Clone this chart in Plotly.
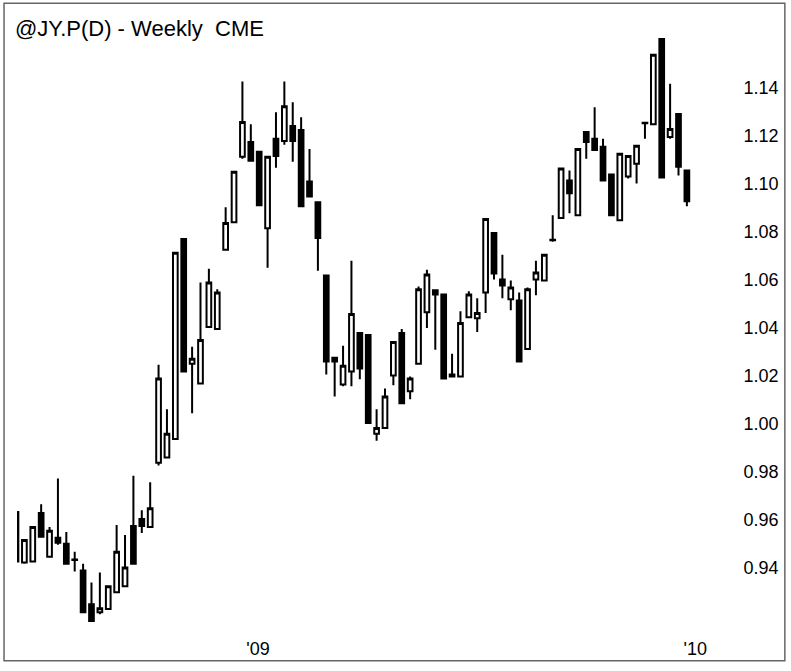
import pandas as pd
import plotly.graph_objects as go

# Weekly bars (Friday dates), @JY.P(D) CME
dates = pd.date_range("2008-06-13", periods=81, freq="7D")

opens = [0.9631, 0.9421, 0.9425, 0.9627, 0.9445, 0.9524, 0.9499, 0.9434, 0.9388, 0.9247,
         0.9214, 0.9227, 0.9297, 0.9322, 0.9573, 0.9602, 0.9569, 0.9837, 0.9858, 0.9936,
         1.0769, 1.0249, 1.0167, 1.0402, 1.0394, 1.0724, 1.0839, 1.1111, 1.1173, 1.1132,
         1.0814, 1.1186, 1.1177, 1.1239, 1.1223, 1.1008, 1.0922, 1.0617, 1.0274, 1.0163,
         1.0217, 1.0377, 1.0369, 0.9957, 0.9981, 1.0200, 1.0377, 1.0134, 1.0249, 1.0464,
         1.0555, 1.0538, 1.0196, 1.0196, 1.0443, 1.0439, 1.0546, 1.0794, 1.0600, 1.0518,
         1.0513, 1.0311, 1.0600, 1.0596, 1.0766, 1.0856, 1.1012, 1.0868, 1.1214, 1.1186,
         1.1153, 1.1037, 1.0847, 1.1029, 1.1082, 1.1251, 1.1247, 1.1602, 1.1194, 1.1289,
         1.1054]
highs = [0.9631, 0.9515, 0.9569, 0.9664, 0.9569, 0.9771, 0.9548, 0.9466, 0.9416, 0.9338,
         0.9379, 0.9322, 0.9577, 0.9536, 0.9783, 0.9639, 0.9755, 1.0245, 1.0060, 1.0711,
         1.0769, 1.0320, 1.0588, 1.0645, 1.0559, 1.0901, 1.1049, 1.1425, 1.1247, 1.1136,
         1.1111, 1.1297, 1.1425, 1.1338, 1.1276, 1.1144, 1.0922, 1.0617, 1.0274, 1.0324,
         1.0678, 1.0377, 1.0373, 1.0060, 1.0146, 1.0340, 1.0394, 1.0196, 1.0571, 1.0641,
         1.0559, 1.0542, 1.0291, 1.0468, 1.0551, 1.0522, 1.0856, 1.0794, 1.0703, 1.0596,
         1.0546, 1.0567, 1.0678, 1.0703, 1.0868, 1.1062, 1.1054, 1.1144, 1.1219, 1.1318,
         1.1186, 1.1037, 1.1124, 1.1115, 1.1157, 1.1254, 1.1536, 1.1602, 1.1416, 1.1289,
         1.1054]
lows = [0.9425, 0.9416, 0.9421, 0.9524, 0.9445, 0.9495, 0.9412, 0.9384, 0.9214, 0.9173,
        0.9206, 0.9227, 0.9297, 0.9322, 0.9416, 0.9544, 0.9569, 0.9825, 0.9858, 0.9936,
        1.0217, 1.0043, 1.0167, 1.0402, 1.0394, 1.0724, 1.0839, 1.1103, 1.1091, 1.0909,
        1.0649, 1.1066, 1.1161, 1.1091, 1.0905, 1.0946, 1.0637, 1.0204, 1.0113, 1.0155,
        1.0155, 1.0184, 1.0002, 0.9928, 0.9981, 1.0159, 1.0085, 1.0101, 1.0249, 1.0398,
        1.0307, 1.0188, 1.0192, 1.0196, 1.0443, 1.0381, 1.0460, 1.0600, 1.0522, 1.0472,
        1.0258, 1.0311, 1.0534, 1.0596, 1.0757, 1.0856, 1.0876, 1.0868, 1.1103, 1.1140,
        1.1012, 1.0868, 1.0847, 1.1021, 1.1000, 1.1186, 1.1247, 1.1025, 1.1186, 1.1033,
        1.0905]
closes = [0.9425, 0.9515, 0.9569, 0.9528, 0.9553, 0.9503, 0.9416, 0.9432, 0.9214, 0.9177,
          0.9231, 0.9322, 0.9466, 0.9400, 0.9416, 0.9573, 0.9647, 1.0188, 0.9957, 1.0711,
          1.0217, 1.0270, 1.0348, 1.0588, 1.0546, 1.0835, 1.1049, 1.1256, 1.1095, 1.0909,
          1.1111, 1.1115, 1.1322, 1.1177, 1.0905, 1.0946, 1.0773, 1.0258, 1.0258, 1.0241,
          1.0456, 1.0229, 1.0002, 0.9981, 1.0113, 1.0340, 1.0085, 1.0188, 1.0559, 1.0621,
          1.0538, 1.0188, 1.0204, 1.0419, 1.0538, 1.0460, 1.0852, 1.0625, 1.0575, 1.0567,
          1.0258, 1.0559, 1.0629, 1.0703, 1.0764, 1.1062, 1.0959, 1.1144, 1.1173, 1.1140,
          1.1012, 1.0868, 1.1124, 1.1115, 1.1157, 1.1253, 1.1536, 1.1025, 1.1227, 1.1070,
          1.0926]

y_ticks = [0.94, 0.96, 0.98, 1.00, 1.02, 1.04, 1.06, 1.08, 1.10, 1.12, 1.14]
y_tick_text = ["%.2f" % v for v in y_ticks]
x_ticks = ["2009-01-01", "2010-01-01"]
x_tick_text = ["'09", "'10"]
title_text = "@JY.P(D) - Weekly  CME"

FONT = "Liberation Sans, Arial, sans-serif"

fig = go.Figure(go.Candlestick(
    x=dates, open=opens, high=highs, low=lows, close=closes,
    increasing=dict(line=dict(color="black", width=2), fillcolor="white"),
    decreasing=dict(line=dict(color="black", width=2), fillcolor="black"),
    whiskerwidth=0,
    hoverinfo="x+y",
))

W, H = 791, 671
L, R, T, B = 17, 738, 35, 630

fig.update_layout(
    width=W, height=H,
    margin=dict(l=L, r=W - R, t=T, b=H - B, pad=0),
    paper_bgcolor="white", plot_bgcolor="white",
    showlegend=False,
    boxgap=0.2,
    title=dict(text=title_text, x=15 / W, xanchor="left", xref="container",
               y=1 - 28 / H, yanchor="middle", yref="container",
               font=dict(family=FONT, size=22, color="black")),
    xaxis=dict(
        type="date",
        range=["2008-06-13 20:00", "2010-02-04"],
        rangeslider=dict(visible=False),
        tickvals=x_ticks, ticktext=x_tick_text,
        ticks="outside", ticklen=8, tickcolor="rgba(0,0,0,0)",
        showgrid=False, zeroline=False, showline=False,
        tickfont=dict(family=FONT, size=18, color="black"),
    ),
    yaxis=dict(
        side="right",
        range=[0.91649, 1.16186],
        tickvals=y_ticks, ticktext=y_tick_text,
        ticks="outside", ticklen=3, tickcolor="rgba(0,0,0,0)",
        showgrid=False, zeroline=False, showline=False,
        tickfont=dict(family=FONT, size=18, color="black"),
    ),
)

# outer frame around the whole chart
pw, ph = R - L, B - T
fig.add_shape(type="rect", xref="paper", yref="paper",
              x0=(4 - L) / pw, x1=(787 - L) / pw,
              y0=(B - 667) / ph, y1=(B - 3) / ph,
              line=dict(color="#666666", width=1.5), fillcolor="rgba(0,0,0,0)")

fig.write_html("out.html",
               config={"displayModeBar": False},
               post_script="document.body.style.margin='0';document.body.style.overflow='hidden';")
